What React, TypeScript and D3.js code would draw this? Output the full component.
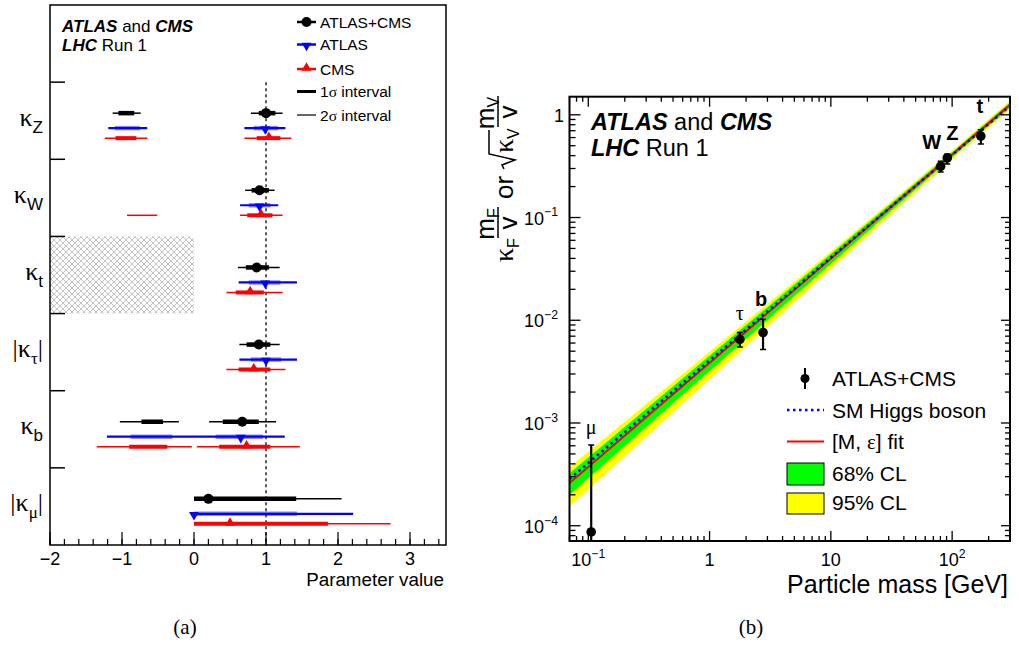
import React from 'react';
import * as d3 from 'd3';

// ---------------- Panel (a) data ----------------
const paramKeys = ['kZ', 'kW', 'kt', 'ktau', 'kb', 'kmu'];
const paramSubs = ['Z', 'W', 't', 'τ', 'b', 'μ'];
const paramSubSerif = [false, false, false, true, false, true];
const paramAbs = [false, false, false, true, false, true];

const combCentral = [1.0, 0.91, 0.87, 0.9, 0.67, 0.2];
const atlasCentral = [0.99, 0.91, 0.99, 1.0, 0.65, 0.0];
const cmsCentral = [1.04, 0.93, 0.78, 0.83, 0.73, 0.5];

const comb1s = [[[-1.05, -0.83], [0.9, 1.13]], [[0.8, 1.04]], [[0.72, 1.04]], [[0.73, 1.06]], [[-0.73, -0.43], [0.4, 0.9]], [[0, 1.42]]];
const comb2s = [[[-1.13, -0.74], [0.79, 1.23]], [[0.71, 1.12]], [[0.61, 1.19]], [[0.63, 1.19]], [[-1.03, -0.21], [0.21, 1.14]], [[0, 2.05]]];
const atlas1s = [[[-1.1, -0.75], [0.83, 1.17]], [[0.76, 1.06]], [[0.76, 1.2]], [[0.79, 1.21]], [[-0.88, -0.3], [0.3, 0.96]], [[0, 1.43]]];
const atlas2s = [[[-1.19, -0.65], [0.7, 1.27]], [[0.64, 1.17]], [[0.62, 1.43]], [[0.63, 1.43]], [[-1.21, 1.26]], [[0, 2.21]]];
const cms1s = [[[-1.09, -0.8], [0.87, 1.2]], [[0.74, 1.09]], [[0.58, 0.97]], [[0.62, 1.06]], [[-0.9, -0.37], [0.35, 1.06]], [[0, 1.86]]];
const cms2s = [[[-1.24, -0.65], [0.7, 1.35]], [[-0.93, -0.51], [0.64, 1.23]], [[0.45, 1.23]], [[0.45, 1.27]], [[-1.35, -0.03], [0.04, 1.47]], [[0, 2.73]]];

const xTicksA = [-2, -1, 0, 1, 2, 3];
const smValue = 1;
const hatchRange = [-2, 0];
const hatchParam = 'kt';

// ---------------- Panel (b) data ----------------
const particleNames = ['μ', 'τ', 'b', 'W', 'Z', 't'];
const particleMass = [0.1057, 1.777, 2.76, 80.4, 91.19, 172.5];
const particleValue = [8.7e-5, 6.5e-3, 7.6e-3, 0.315, 0.38, 0.62];
const particleHi = [6.1e-4, 7.6e-3, 1.02e-2, 0.352, 0.415, 0.715];
const particleLo = [1e-5, 5.5e-3, 5.2e-3, 0.278, 0.332, 0.52];

const bandMass = [0.07, 1, 10, 100, 300];
const yellowHi = [3.71e-4, 4.95e-3, 4.67e-2, 0.45, 1.37];
const yellowLo = [1.54e-4, 2.66e-3, 3.15e-2, 0.37, 1.127];
const greenHi = [3.24e-4, 4.52e-3, 4.41e-2, 0.431, 1.315];
const greenLo = [2.0e-4, 3.2e-3, 3.54e-2, 0.387, 1.18];

const lineMass = [0.07, 300];
const smLine = [2.85e-4, 1.22];
const fitLine = [2.6e-4, 1.25];

const xTicksB = [0.1, 1, 10, 100];
const yTicksB = [1e-4, 1e-3, 1e-2, 1e-1, 1];

// ---------------- styles ----------------
const SANS = '"Liberation Sans", Arial, Helvetica, sans-serif';
const SERIF = '"Liberation Serif", "Times New Roman", serif';
const labelStyleB = [
  { dx: 0, dy: -11, serif: true },
  { dx: 0, dy: -12, serif: true },
  { dx: -2, dy: -13, serif: false },
  { dx: -9, dy: -12, serif: false },
  { dx: 5, dy: -14, serif: false },
  { dx: -1, dy: -17, serif: false },
];

function Sup({ base, exp, x, y, anchor, size }: any) {
  return (
    <text x={x} y={y} textAnchor={anchor} fontFamily={SANS} fontSize={size}>
      {base}
      {exp !== null && (
        <tspan fontSize={size * 0.68} dy={-size * 0.45}>
          {exp}
        </tspan>
      )}
    </text>
  );
}

function PanelA() {
  const L = { left: 50, right: 446, top: 5, bottom: 545 };
  const x = d3.scaleLinear().domain([-2, 3.5]).range([L.left, L.right]);
  const band = d3.scaleBand().domain(['legend', ...paramKeys]).range([L.top, L.bottom]);
  const bw = band.bandwidth();
  const offs = [0.402, 0.596, 0.726];
  const series = [
    { c: combCentral, s1: comb1s, s2: comb2s, col1: '#000', col2: '#000', w1: 4.5, w2: 1.5, op1: 1 },
    { c: atlasCentral, s1: atlas1s, s2: atlas2s, col1: '#0000ff', col2: '#0000ff', w1: 4.5, w2: 2.2, op1: 0.45 },
    { c: cmsCentral, s1: cms1s, s2: cms2s, col1: '#ff0000', col2: '#ff0000', w1: 4, w2: 1.5, op1: 1 },
  ];
  const minor = d3.range(-2, 3.5001, 0.2);
  const tri = d3.symbol(d3.symbolTriangle, 42)();
  const markers = [
    (cx: number, cy: number, k: string) => <circle key={k} cx={cx} cy={cy} r={5} fill="#000" />,
    (cx: number, cy: number, k: string) => (
      <path key={k} d={tri || ''} transform={`translate(${cx},${cy + 1}) rotate(180)`} fill="#0000ff" />
    ),
    (cx: number, cy: number, k: string) => (
      <path key={k} d={tri || ''} transform={`translate(${cx},${cy - 1})`} fill="#ff0000" />
    ),
  ];
  const hy = band(hatchParam)!;
  return (
    <g>
      <defs>
        <pattern id="hatch" width="6" height="6" patternUnits="userSpaceOnUse">
          <path d="M0,0 L6,6 M6,0 L0,6" stroke="#c4c4c4" strokeWidth="1" />
        </pattern>
      </defs>
      <rect x={x(hatchRange[0])} y={hy} width={x(hatchRange[1]) - x(hatchRange[0])} height={bw} fill="url(#hatch)" />
      {/* SM line */}
      <line x1={x(smValue)} x2={x(smValue)} y1={band(paramKeys[0])!} y2={L.bottom} stroke="#333" strokeWidth={1.6} strokeDasharray="3,3" />
      {paramKeys.map((p, i) => {
        const top = band(p)!;
        return (
          <g key={p}>
            {series.map((s, j) => {
              const yy = top + offs[j] * bw;
              return (
                <g key={j}>
                  {s.s2[i].map((seg, k) => (
                    <line key={'a' + k} x1={x(seg[0])} x2={x(seg[1])} y1={yy} y2={yy} stroke={s.col2} strokeWidth={s.w2} />
                  ))}
                  {s.s1[i].map((seg, k) => (
                    <line key={'b' + k} x1={x(seg[0])} x2={x(seg[1])} y1={yy} y2={yy} stroke={s.col1} strokeWidth={s.w1} strokeOpacity={s.op1} />
                  ))}
                  {markers[j](x(s.c[i]), yy, 'm')}
                </g>
              );
            })}
            {/* label */}
            <text x={43} y={top + bw / 2 + 5} textAnchor="end" fontFamily={SERIF} fontSize={26}>
              {paramAbs[i] ? '|' : ''}κ
              <tspan fontFamily={paramSubSerif[i] ? SERIF : SANS} fontSize={17} dy={7}>
                {paramSubs[i]}
              </tspan>
              {paramAbs[i] ? (
                <tspan dy={-7} fontSize={26}>
                  |
                </tspan>
              ) : null}
            </text>
            <line x1={L.left} x2={L.left + 15} y1={top} y2={top} stroke="#000" strokeWidth={1.5} />
          </g>
        );
      })}
      {/* frame */}
      <rect x={L.left} y={L.top} width={L.right - L.left} height={L.bottom - L.top} fill="none" stroke="#000" strokeWidth={1.5} />
      {minor.map((v, i) => (
        <line key={'mn' + i} x1={x(v)} x2={x(v)} y1={L.bottom} y2={L.bottom - 6} stroke="#000" strokeWidth={1.2} />
      ))}
      {xTicksA.map((v) => (
        <g key={'t' + v}>
          <line x1={x(v)} x2={x(v)} y1={L.bottom} y2={L.bottom - 13} stroke="#000" strokeWidth={1.2} />
          <text x={x(v)} y={565} textAnchor="middle" fontFamily={SANS} fontSize={18}>
            {v < 0 ? '−' + Math.abs(v) : String(v)}
          </text>
        </g>
      ))}
      <text x={444} y={586} textAnchor="end" fontFamily={SANS} fontSize={18.8}>
        Parameter value
      </text>
      {/* Title */}
      <text x={62} y={32} fontFamily={SANS} fontSize={17}>
        <tspan fontWeight="bold" fontStyle="italic">ATLAS</tspan> and{' '}
        <tspan fontWeight="bold" fontStyle="italic">CMS</tspan>
      </text>
      <text x={62} y={51} fontFamily={SANS} fontSize={17}>
        <tspan fontWeight="bold" fontStyle="italic">LHC</tspan> Run 1
      </text>
      {/* Legend */}
      {[
        { t: 'ATLAS+CMS', y: 22, col: '#000', m: 0 },
        { t: 'ATLAS', y: 44.5, col: '#0000ff', m: 1 },
        { t: 'CMS', y: 69, col: '#ff0000', m: 2 },
      ].map((e) => (
        <g key={e.t}>
          <line x1={297} x2={316} y1={e.y} y2={e.y} stroke={e.col} strokeWidth={2.5} />
          {markers[e.m](306.5, e.y, 'lm')}
          <text x={320} y={e.y + 5.5} fontFamily={SANS} fontSize={15.5}>
            {e.t}
          </text>
        </g>
      ))}
      <line x1={297} x2={316} y1={91.5} y2={91.5} stroke="#000" strokeWidth={3} />
      <text x={320} y={97} fontFamily={SANS} fontSize={15.5}>
        1<tspan fontFamily={SERIF}>σ</tspan> interval
      </text>
      <line x1={297} x2={316} y1={115} y2={115} stroke="#000" strokeWidth={1.2} />
      <text x={320} y={120.5} fontFamily={SANS} fontSize={15.5}>
        2<tspan fontFamily={SERIF}>σ</tspan> interval
      </text>
      <text x={185} y={634} textAnchor="middle" fontFamily={SERIF} fontSize={21}>
        (a)
      </text>
    </g>
  );
}

function PanelB() {
  const R = { left: 569.5, right: 1010, top: 96.7, bottom: 541 };
  const x = d3.scaleLog().domain([0.07, 300]).range([R.left, R.right]);
  const y = d3.scaleLog().domain([7.1e-5, 1.5]).range([R.bottom, R.top]);
  const yClamp = (v: number) => Math.min(R.bottom, Math.max(R.top, y(v)));

  const area = (hi: number[], lo: number[]) =>
    d3
      .area<number>()
      .x((_, i) => x(bandMass[i]))
      .y0((_, i) => y(lo[i]))
      .y1((_, i) => y(hi[i]))(bandMass.map((_, i) => i)) || '';
  const line = (vals: number[]) =>
    d3
      .line<number>()
      .x((_, i) => x(lineMass[i]))
      .y((_, i) => y(vals[i]))(lineMass.map((_, i) => i)) || '';

  const xMinor: number[] = [];
  for (let e = -2; e <= 2; e++) for (let j = 1; j <= 9; j++) {
    const v = j * Math.pow(10, e);
    if (v >= 0.07 && v <= 300) xMinor.push(v);
  }
  const yMinor: number[] = [];
  for (let e = -5; e <= 0; e++) for (let j = 1; j <= 9; j++) {
    const v = j * Math.pow(10, e);
    if (v >= 7.1e-5 && v <= 1.5) yMinor.push(v);
  }
  const expOf = (v: number) => Math.round(Math.log10(v));
  const fmt = (v: number) => {
    const e = expOf(v);
    if (e === 0) return { b: '1', e: null };
    if (e === 1) return { b: '10', e: null };
    return { b: '10', e: e < 0 ? '−' + Math.abs(e) : String(e) };
  };

  return (
    <g>
      <defs>
        <clipPath id="clipB">
          <rect x={R.left} y={R.top} width={R.right - R.left} height={R.bottom - R.top} />
        </clipPath>
      </defs>
      <g clipPath="url(#clipB)">
        <path d={area(yellowHi, yellowLo)} fill="#ffff00" />
        <path d={area(greenHi, greenLo)} fill="#00ff00" />
        <path d={line(fitLine)} fill="none" stroke="#ff0000" strokeWidth={2} />
        <path d={line(smLine)} fill="none" stroke="#0000ff" strokeWidth={2.6} strokeDasharray="2.5,3.5" />
        {particleNames.map((n, i) => {
          const cx = x(particleMass[i]);
          return (
            <g key={n}>
              <line x1={cx} x2={cx} y1={yClamp(particleLo[i])} y2={y(particleHi[i])} stroke="#000" strokeWidth={2.2} />
              <line x1={cx - 3} x2={cx + 3} y1={y(particleHi[i])} y2={y(particleHi[i])} stroke="#000" strokeWidth={1.5} />
              {particleLo[i] > 7.1e-5 && (
                <line x1={cx - 3} x2={cx + 3} y1={y(particleLo[i])} y2={y(particleLo[i])} stroke="#000" strokeWidth={1.5} />
              )}
              <circle cx={cx} cy={y(particleValue[i])} r={4.8} fill="#000" />
            </g>
          );
        })}
      </g>
      {particleNames.map((n, i) => {
        const st = labelStyleB[i];
        return (
          <text
            key={'l' + n}
            x={x(particleMass[i]) + st.dx}
            y={y(particleHi[i]) + st.dy}
            textAnchor="middle"
            fontFamily={st.serif ? SERIF : SANS}
            fontWeight={st.serif ? 'normal' : 'bold'}
            fontSize={20}
          >
            {n}
          </text>
        );
      })}
      {/* frame */}
      <rect x={R.left} y={R.top} width={R.right - R.left} height={R.bottom - R.top} fill="none" stroke="#000" strokeWidth={2} />
      {xMinor.map((v, i) => {
        const major = Math.abs(Math.log10(v) - Math.round(Math.log10(v))) < 1e-6;
        const len = major ? 10 : 5;
        return (
          <g key={'xm' + i}>
            <line x1={x(v)} x2={x(v)} y1={R.bottom} y2={R.bottom - len} stroke="#000" strokeWidth={1.3} />
            <line x1={x(v)} x2={x(v)} y1={R.top} y2={R.top + len} stroke="#000" strokeWidth={1.3} />
          </g>
        );
      })}
      {yMinor.map((v, i) => {
        const major = Math.abs(Math.log10(v) - Math.round(Math.log10(v))) < 1e-6;
        return (
          <g key={'ym' + i}>
            <line x1={R.left} x2={R.left + (major ? 11 : 6)} y1={y(v)} y2={y(v)} stroke="#000" strokeWidth={1.3} />
            <line x1={R.right} x2={R.right - (major ? 9 : 5)} y1={y(v)} y2={y(v)} stroke="#000" strokeWidth={1.3} />
          </g>
        );
      })}
      {xTicksB.map((v) => {
        const f = fmt(v);
        return <Sup key={'xl' + v} base={f.b} exp={f.e} x={x(v)} y={566} anchor="middle" size={18} />;
      })}
      {yTicksB.map((v) => {
        const f = fmt(v);
        return <Sup key={'yl' + v} base={f.b} exp={f.e} x={f.e === null ? 564 : 558} y={y(v) + 7} anchor="end" size={18} />;
      })}
      <text x={1008} y={593} textAnchor="end" fontFamily={SANS} fontSize={25}>
        Particle mass [GeV]
      </text>
      {/* y title */}
      <g transform="translate(513,262) rotate(-90)" fontFamily={SANS}>
        <text x={0} y={0} fontFamily={SERIF} fontSize={28}>κ</text>
        <text x={14} y={6} fontSize={16}>F</text>
        <text x={38} y={-19} textAnchor="middle" fontSize={26}>
          m<tspan fontSize={16} dy={5}>F</tspan>
        </text>
        <line x1={24} x2={55} y1={-15} y2={-15} stroke="#000" strokeWidth={1.5} />
        <text x={39} y={4} textAnchor="middle" fontSize={26}>v</text>
        <text x={63} y={0} fontSize={26}>or</text>
        <path d="M93,-9 L97,-11 L102,2 L108,-24 L132,-24" fill="none" stroke="#000" strokeWidth={1.5} />
        <text x={109} y={0} fontFamily={SERIF} fontSize={28}>κ</text>
        <text x={123} y={6} fontSize={16}>V</text>
        <text x={149} y={-19} textAnchor="middle" fontSize={26}>
          m<tspan fontSize={16} dy={5}>V</tspan>
        </text>
        <line x1={135} x2={166} y1={-15} y2={-15} stroke="#000" strokeWidth={1.5} />
        <text x={150} y={4} textAnchor="middle" fontSize={26}>v</text>
      </g>
      {/* title */}
      <text x={591} y={129.5} fontFamily={SANS} fontSize={23.5}>
        <tspan fontWeight="bold" fontStyle="italic">ATLAS</tspan> and{' '}
        <tspan fontWeight="bold" fontStyle="italic">CMS</tspan>
      </text>
      <text x={591} y={156} fontFamily={SANS} fontSize={23.5}>
        <tspan fontWeight="bold" fontStyle="italic">LHC</tspan>  Run 1
      </text>
      {/* legend */}
      <line x1={805} x2={805} y1={368} y2={389} stroke="#000" strokeWidth={2} />
      <circle cx={805} cy={378.5} r={4.5} fill="#000" />
      <text x={832} y={386} fontFamily={SANS} fontSize={21}>ATLAS+CMS</text>
      <line x1={787} x2={824} y1={410} y2={410} stroke="#0000ff" strokeWidth={2.6} strokeDasharray="2.5,3.5" />
      <text x={832} y={417.5} fontFamily={SANS} fontSize={21}>SM Higgs boson</text>
      <line x1={787} x2={824} y1={441.5} y2={441.5} stroke="#ff0000" strokeWidth={2} />
      <text x={832} y={449} fontFamily={SANS} fontSize={21}>
        [M, <tspan fontFamily={SERIF}>ε</tspan>] fit
      </text>
      <rect x={787} y={463} width={37} height={22} fill="#00ff00" stroke="#000" strokeWidth={1} />
      <text x={832} y={481} fontFamily={SANS} fontSize={21}>68% CL</text>
      <rect x={787} y={493} width={37} height={21} fill="#ffff00" stroke="#000" strokeWidth={1} />
      <text x={832} y={510} fontFamily={SANS} fontSize={21}>95% CL</text>
      <text x={751} y={634} textAnchor="middle" fontFamily={SERIF} fontSize={21}>
        (b)
      </text>
    </g>
  );
}

export default function App() {
  return (
    <svg
      width={1019}
      height={647}
      viewBox="0 0 1019 647"
      style={{ position: 'absolute', left: 0, top: 0, background: '#fff' }}
    >
      <rect x={0} y={0} width={1019} height={647} fill="#fff" />
      <PanelA />
      <PanelB />
    </svg>
  );
}
